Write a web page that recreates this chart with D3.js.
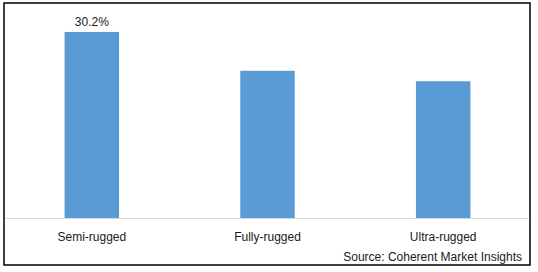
<!DOCTYPE html>
<html>
<head>
<meta charset="utf-8">
<script src="https://cdn.jsdelivr.net/npm/d3@7.9.0/dist/d3.min.js"></script>
<style>
  body { margin: 0; background: #fff; }
  svg text { font-family: "Liberation Sans", Arial, sans-serif; fill: #1a1a1a; }
</style>
</head>
<body>
<div id="chart"></div>
<script>
// Chart data
const categories = ['Semi-rugged', 'Fully-rugged', 'Ultra-rugged'];
const shares = [30.2, 23.9, 22.2];
const labelled = ['30.2%', '', ''];
const source = 'Source: Coherent Market Insights';

const width = 538;
const height = 272;

const svg = d3.select('#chart')
  .append('svg')
  .attr('width', width)
  .attr('height', height);

// Outer frame
svg.append('rect')
  .attr('x', 4).attr('y', 3)
  .attr('width', 526).attr('height', 262)
  .attr('fill', 'none')
  .attr('stroke', '#000')
  .attr('stroke-width', 1.5);

const plot = { left: 4, right: 531, top: 2, bottom: 218 };

const xScale = d3.scaleBand()
  .domain(categories)
  .range([plot.left, plot.right])
  .paddingInner(0.69)
  .paddingOuter(0.345);

const yScale = d3.scaleLinear()
  .domain([0, 35])
  .range([plot.bottom, plot.bottom - 35 * 6.16]);

// Bars
svg.append('g')
  .selectAll('rect')
  .data(categories)
  .join('rect')
  .attr('x', (d) => xScale(d))
  .attr('y', (d, i) => yScale(shares[i]))
  .attr('width', xScale.bandwidth())
  .attr('height', (d, i) => yScale(0) - yScale(shares[i]))
  .attr('fill', '#5B9BD5');

// Value labels
svg.append('g')
  .selectAll('text')
  .data(categories)
  .join('text')
  .attr('x', (d) => xScale(d) + xScale.bandwidth() / 2)
  .attr('y', (d, i) => yScale(shares[i]) - 6)
  .attr('text-anchor', 'middle')
  .style('font-size', '12px')
  .text((d, i) => labelled[i]);

// X axis
const xAxis = svg.append('g')
  .attr('transform', `translate(0, ${plot.bottom})`)
  .call(d3.axisBottom(xScale).tickSize(0).tickPadding(14));
xAxis.select('.domain').attr('stroke', '#D9D9D9').attr('d', `M${plot.left + 1},0.5H${plot.right - 2}`);
xAxis.selectAll('text')
  .style('font-size', '12px')
  .style('font-family', '"Liberation Sans", Arial, sans-serif')
  .attr('fill', '#1a1a1a');

// Source
svg.append('text')
  .attr('x', 522)
  .attr('y', 261)
  .attr('text-anchor', 'end')
  .style('font-size', '12px')
  .text(source);
</script>
</body>
</html>
